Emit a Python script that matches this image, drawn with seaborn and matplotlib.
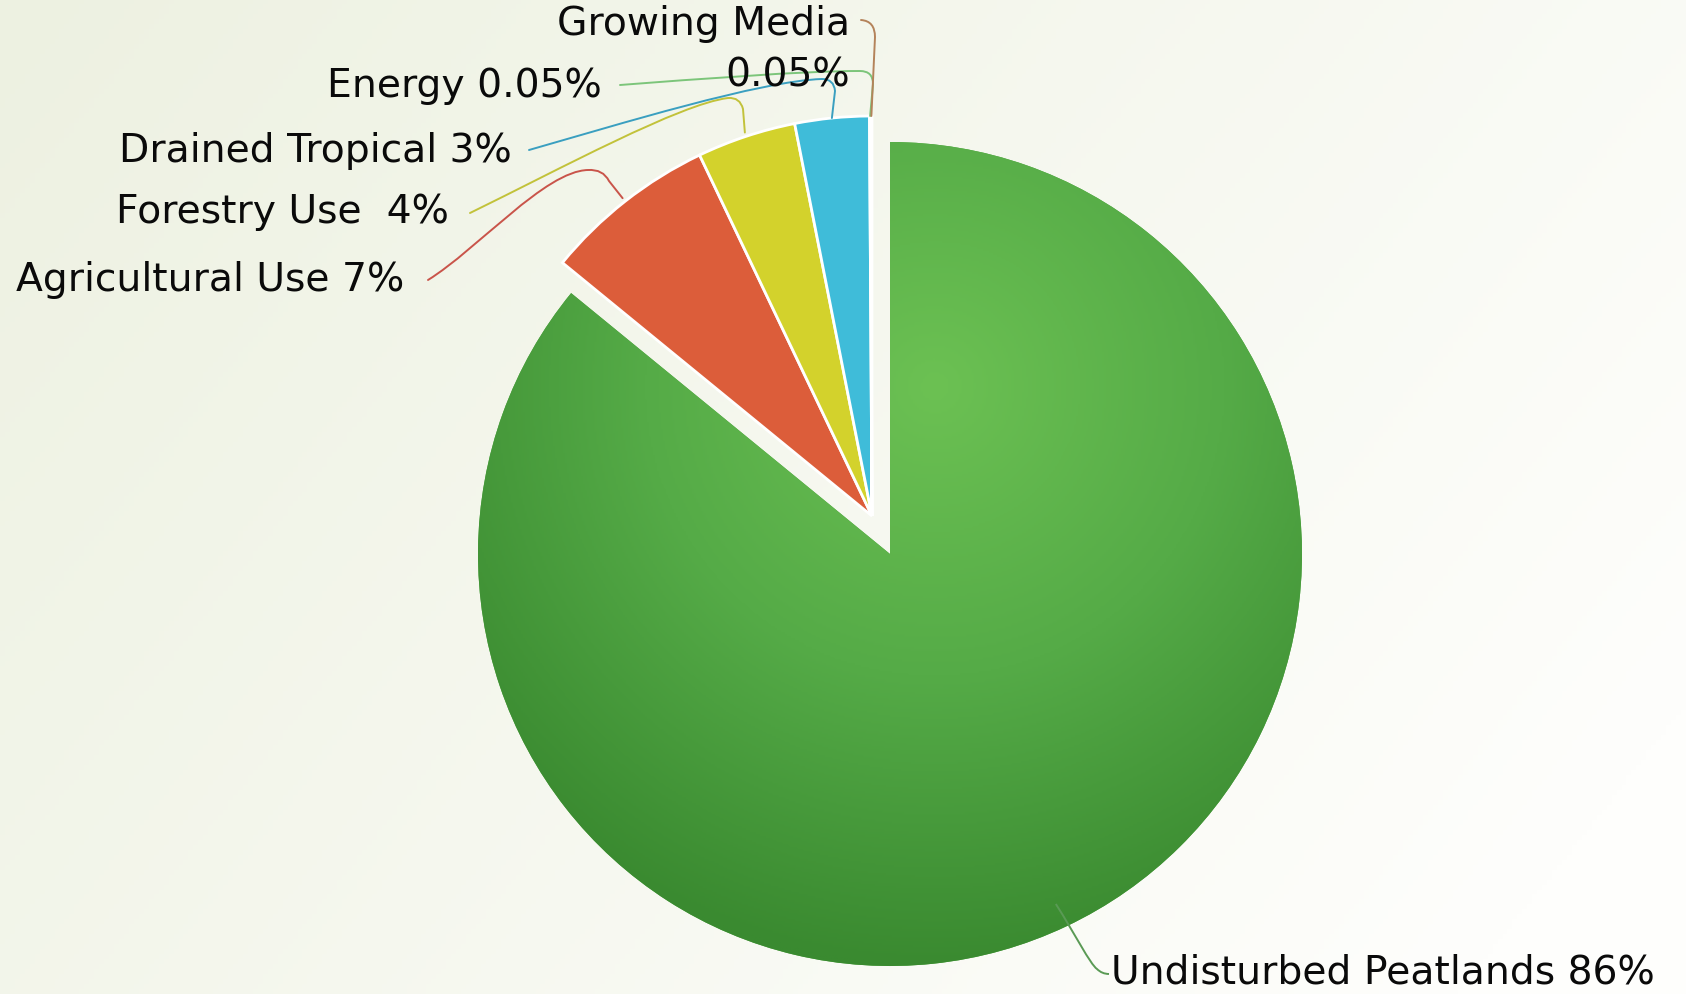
import numpy as np
import matplotlib
matplotlib.use("Agg")
import matplotlib.pyplot as plt
import seaborn as sns
from matplotlib.path import Path
from matplotlib.patches import PathPatch
from matplotlib.colors import LinearSegmentedColormap, to_rgb

# ---------------- data ----------------
categories = ["Undisturbed Peatlands", "Agricultural Use", "Forestry Use",
              "Drained Tropical", "Energy", "Growing Media"]
shares = [86, 7, 4, 3, 0.05, 0.05]
labels = ["Undisturbed Peatlands 86%", "Agricultural Use 7%", "Forestry Use  4%",
          "Drained Tropical 3%", "Energy 0.05%", "Growing Media", "0.05%"]
colors = ["#52a844", "#dc5d3a", "#d3d22c", "#3fbcd9", "#7cc57a", "#b4835a"]
line_colors = ["#5a9a55", "#c9544a", "#c2c23a", "#3a9fc0", "#7cc57a", "#b4835a"]

sns.set_theme(style="white")
plt.rcParams["font.family"] = ["DejaVu Sans"]

W, H = 1686, 995
fig = plt.figure(figsize=(W / 100, H / 100), dpi=100)
ax = fig.add_axes([0, 0, 1, 1])

def P(x, y):
    """pixel (y down) -> data (y up)"""
    return (x, H - y)

# background gradient
yy, xx = np.mgrid[0:1:200j, 0:1:340j]
t = np.clip(0.75 * xx + 0.35 * yy, 0, 1)[..., None]
c0 = np.array(to_rgb("#edf1e1"))
c1 = np.array(to_rgb("#fefefc"))
bg = c0 * (1 - t) + c1 * t
ax.imshow(bg, extent=(0, W, 0, H), origin="upper", aspect="auto", zorder=0)

g_center = P(890, 555)
g_r = 412
s_center = P(872, 517)
s_r = 400

w1, _ = ax.pie(shares, colors=[colors[0]] + ["none"] * 5, startangle=90,
               counterclock=False, radius=g_r, center=g_center,
               wedgeprops=dict(linewidth=0), frame=True)
for w in w1[1:]:
    w.set_visible(False)

w2, _ = ax.pie(shares, colors=["none"] + colors[1:], startangle=90,
               counterclock=False, radius=s_r, center=s_center,
               wedgeprops=dict(linewidth=2, edgecolor="white"), frame=True)
w2[0].set_visible(False)

# radial shading of the large wedge
gx, gy = np.meshgrid(np.linspace(g_center[0] - g_r, g_center[0] + g_r, 400),
                     np.linspace(g_center[1] - g_r, g_center[1] + g_r, 400))
hx, hy = P(935, 387)
d = np.clip(np.hypot(gx - hx, gy - hy) / 580, 0, 1)
gcmap = LinearSegmentedColormap.from_list("g", ["#6cc153", "#55ab47", "#3a8a30"])
im = ax.imshow(d, cmap=gcmap, vmin=0, vmax=1, origin="lower",
               extent=(g_center[0] - g_r, g_center[0] + g_r,
                       g_center[1] - g_r, g_center[1] + g_r), zorder=2)
im.set_clip_path(w1[0])

for w in w2[1:]:
    w.set_zorder(3)

def attach(w, frac=1.0):
    th = np.deg2rad((w.theta1 + w.theta2) / 2)
    cx, cy = w.center
    return (cx + frac * w.r * np.cos(th), cy + frac * w.r * np.sin(th))

def leader(verts_px, codes, end, color):
    verts = [P(x, y) for x, y in verts_px] + [end]
    codes = codes + [Path.LINETO]
    ax.add_patch(PathPatch(Path(verts, codes), fill=False, edgecolor=color,
                           lw=1.4, zorder=4, capstyle="round"))

M, C4, C3, L = Path.MOVETO, Path.CURVE4, Path.CURVE3, Path.LINETO

# Agricultural
leader([(428, 281), (478, 250), (545, 172), (588, 171), (603, 170), (609, 182)],
       [M, C4, C4, C4, C3, C3], attach(w2[1], 1.01), line_colors[1])
# Forestry
leader([(470, 214), (560, 170), (680, 105), (728, 99), (740, 98), (743, 110)],
       [M, C4, C4, C4, C3, C3], attach(w2[2], 1.01), line_colors[2])
# Drained tropical
leader([(529, 151), (620, 125), (760, 82), (822, 80), (834, 80), (835, 92)],
       [M, C4, C4, C4, C3, C3], attach(w2[3], 1.0), line_colors[3])
# Energy
leader([(620, 86), (700, 80), (800, 72), (860, 72), (873, 72), (873, 85)],
       [M, C4, C4, C4, C3, C3], attach(w2[4], 1.0), line_colors[4])
# Growing media
leader([(861, 21), (875, 22), (875, 38)],
       [M, C3, C3], attach(w2[5], 1.0), line_colors[5])
# Undisturbed
a0 = attach(w1[0], 0.94)
verts = [a0, P(1075, 935), P(1090, 965), P(1097, 970), P(1102, 975), P(1109, 975)]
ax.add_patch(PathPatch(Path(verts, [M, C4, C4, C4, C3, C3]), fill=False,
                       edgecolor=line_colors[0], lw=1.4, zorder=4))

fs = 28.3
txt = dict(fontsize=fs, color="#0a0a0a", zorder=5, va="center")
ax.text(*P(1111, 973), labels[0], ha="left", **txt)
ax.text(*P(404, 280), labels[1], ha="right", **txt)
ax.text(*P(449, 212), labels[2], ha="right", **txt)
ax.text(*P(512, 151), labels[3], ha="right", **txt)
ax.text(*P(602, 86), labels[4], ha="right", **txt)
ax.text(*P(850, 24), labels[5], ha="right", **txt)
ax.text(*P(850, 76), labels[6], ha="right", **txt)

ax.set_xlim(0, W)
ax.set_ylim(0, H)
ax.set_aspect("equal")
ax.axis("off")

fig.savefig("out.png", dpi=100)
